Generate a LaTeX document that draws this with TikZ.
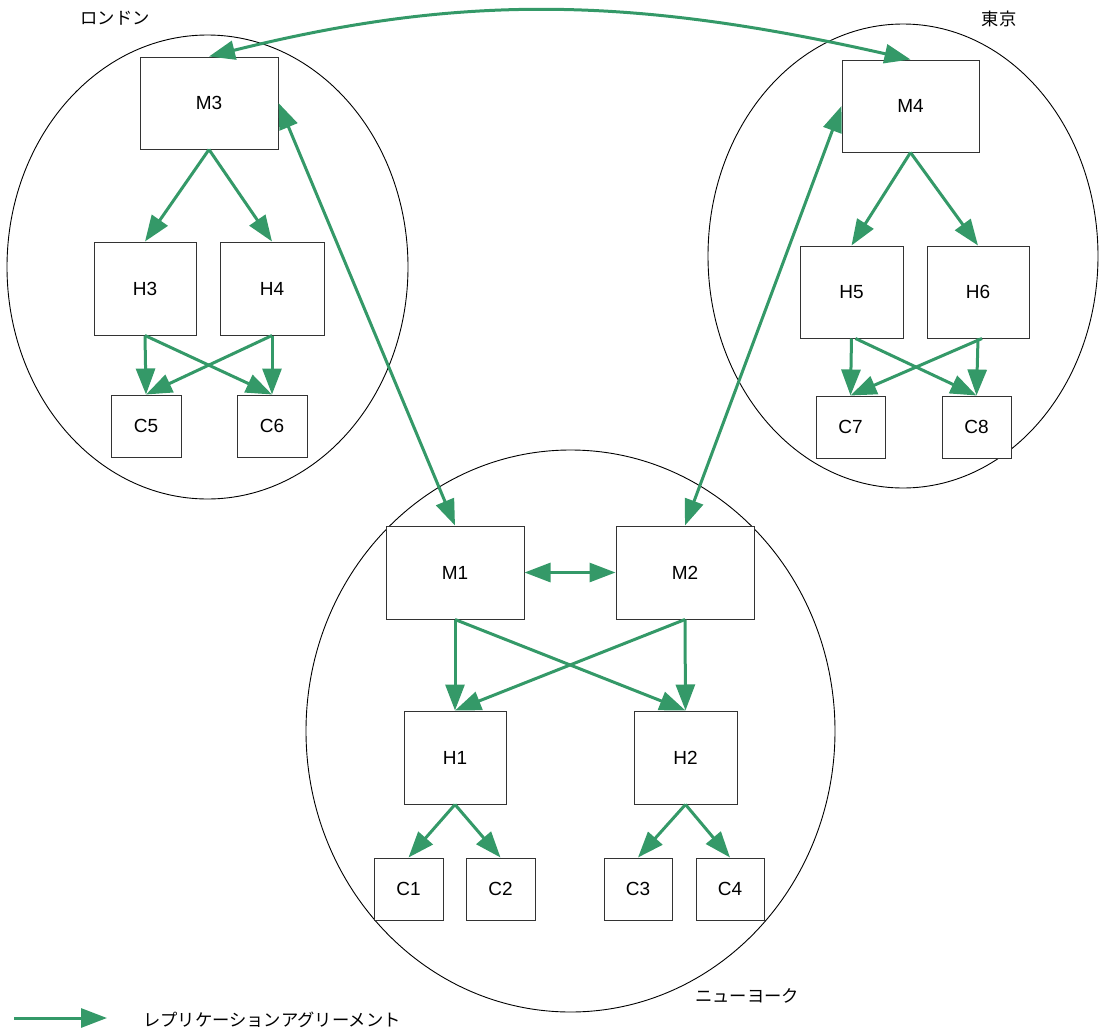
\documentclass[tikz,border=0pt]{standalone}
\usepackage{fontspec}
\setmainfont{Liberation Sans}
\newfontfamily\jpfont{Noto Sans CJK JP}
\usetikzlibrary{arrows.meta,shapes.geometric}
\definecolor{repgreen}{RGB}{52,153,104}
\definecolor{boxline}{RGB}{51,51,51}
\tikzset{
  site/.style={draw=black,line width=0.9pt,ellipse,inner sep=0pt},
  srv/.style={draw=boxline,line width=1pt,fill=white,rectangle,inner sep=0pt,font=\fontsize{19}{22}\selectfont},
  mbox/.style={srv,minimum width=138pt,minimum height=92pt},
  hbox/.style={srv,minimum width=102pt,minimum height=93pt},
  cbox/.style={srv,minimum width=69pt,minimum height=62pt},
  rep/.style={draw=repgreen,line width=3pt,-{Triangle[length=26pt,width=19pt]}},
  repboth/.style={draw=repgreen,line width=3pt,{Triangle[length=26pt,width=19pt]}-{Triangle[length=26pt,width=19pt]}},
  jlabel/.style={font=\jpfont\fontsize{17.3}{20}\selectfont,inner sep=0pt}
}
\begin{document}
\begin{tikzpicture}[x=1pt,y=-1pt]
\useasboundingbox (0,0) rectangle (1104,1031);
% sites
\node[site,minimum width=401pt,minimum height=464pt] (london) at (207.5,267) {};
\node[site,minimum width=390pt,minimum height=464pt] (tokyo) at (903,256) {};
\node[site,minimum width=529pt,minimum height=562pt] (ny) at (570.5,731) {};
% site labels
\node[jlabel] (lonlbl) at (115,18) {ロンドン};
\node[jlabel] (toklbl) at (999,19) {東京};
\node[jlabel] (nylbl) at (747,996) {ニューヨーク};
% London
\node[mbox] (M3) at (209,103) {M3};
\node[hbox] (H3) at (145,288.5) {H3};
\node[hbox,minimum width=104pt] (H4) at (272,288.5) {H4};
\node[cbox,minimum width=70pt] (C5) at (146,426) {C5};
\node[cbox,minimum width=70pt] (C6) at (272,426) {C6};
% Tokyo
\node[mbox,minimum width=137pt] (M4) at (910.5,106) {M4};
\node[hbox,minimum width=103pt,minimum height=92pt] (H5) at (851.5,292) {H5};
\node[hbox,minimum height=92pt] (H6) at (978,292) {H6};
\node[cbox] (C7) at (850.5,427) {C7};
\node[cbox] (C8) at (976.5,427) {C8};
% New York
\node[mbox,minimum height=93pt] (M1) at (455,572.5) {M1};
\node[mbox,minimum height=93pt] (M2) at (685,572.5) {M2};
\node[hbox] (H1) at (455,757.5) {H1};
\node[hbox,minimum width=103pt] (H2) at (685.5,757.5) {H2};
\node[cbox] (C1) at (408.5,889) {C1};
\node[cbox] (C2) at (500.5,889) {C2};
\node[cbox,minimum width=68pt] (C3) at (638,889) {C3};
\node[cbox,minimum width=68pt] (C4) at (730,889) {C4};
% inter-site replication
\draw[repboth] (M3.north) .. controls (460,-6) and (630,-4) .. (M4.north);
\draw[repboth] (M3.east) -- (M1.north);
\draw[repboth] (M4.west) -- (M2.north);
\draw[repboth] (M1.east) -- (M2.west);
% London internal
\draw[rep] (M3.south) -- (H3.north);
\draw[rep] (M3.south) -- (H4.north);
\draw[rep] (H3.south) -- (C5.north);
\draw[rep] (H3.south) -- (C6.north);
\draw[rep] (H4.south) -- (C5.north);
\draw[rep] (H4.south) -- (C6.north);
% Tokyo internal
\draw[rep] (M4.south) -- (H5.north);
\draw[rep] (M4.south) -- (H6.north);
\draw[rep] (H5.south) -- (C7.north);
\draw[rep] ([xshift=4pt]H5.south) -- (C8.north);
\draw[rep] ([xshift=4pt]H6.south) -- (C7.north);
\draw[rep] (H6.south) -- (C8.north);
% New York internal
\draw[rep] (M1.south) -- (H1.north);
\draw[rep] (M1.south) -- (H2.north);
\draw[rep] (M2.south) -- (H1.north);
\draw[rep] (M2.south) -- (H2.north);
\draw[rep] (H1.south) -- (C1.north);
\draw[rep] (H1.south) -- (C2.north);
\draw[rep] (H2.south) -- (C3.north);
\draw[rep] (H2.south) -- (C4.north);
% legend
\coordinate (legA) at (14,1018);
\coordinate (legB) at (107,1018);
\draw[rep] (legA) -- (legB);
\node[jlabel,anchor=west] (legtxt) at (143,1020) {レプリケーションアグリーメント};
\end{tikzpicture}
\end{document}
